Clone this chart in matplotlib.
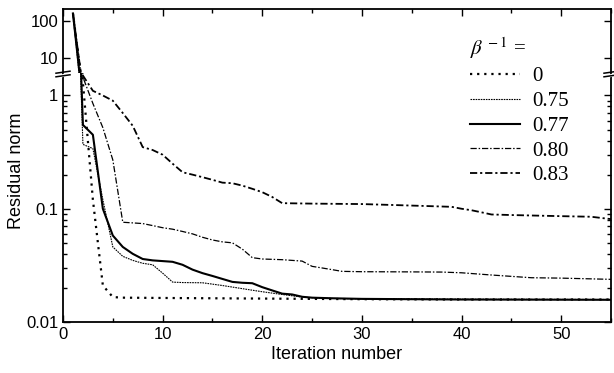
import matplotlib
matplotlib.use("Agg")
import matplotlib.pyplot as plt
from matplotlib.ticker import FixedLocator, NullLocator, MultipleLocator, NullFormatter, FixedFormatter
from matplotlib.lines import Line2D
from matplotlib.patches import Polygon

plt.rcParams['font.family'] = ['Liberation Sans', 'DejaVu Sans']
plt.rcParams['mathtext.fontset'] = 'stix'

# ---- data ----
labels = ["0", "0.75", "0.77", "0.80", "0.83"]

it_0 = [1, 2, 3, 4, 5, 6, 10, 20, 30, 40, 55]
res_0 = [160, 1.3, 0.12, 0.021, 0.0166, 0.0164, 0.0163, 0.0161, 0.0159, 0.0158, 0.0158]

it_075 = [1, 2, 3, 4, 5, 6, 7, 8, 9, 10, 11, 12, 14, 16, 18, 20, 22, 24, 26, 30, 40, 55]
res_075 = [160, 0.37, 0.34, 0.12, 0.046, 0.038, 0.035, 0.033, 0.032, 0.027, 0.0225,
           0.0223, 0.0222, 0.021, 0.0197, 0.0185, 0.0175, 0.0166, 0.0162, 0.016, 0.0159, 0.0158]

it_077 = [1, 2, 3, 4, 5, 6, 7, 8, 9, 10, 11, 12, 13, 14, 15, 16, 17, 18, 19, 20, 21, 22,
          23, 24, 25, 27, 30, 35, 40, 55]
res_077 = [160, 0.55, 0.45, 0.10, 0.058, 0.046, 0.040, 0.036, 0.035, 0.0345, 0.034, 0.032,
           0.029, 0.027, 0.0255, 0.024, 0.0226, 0.0222, 0.022, 0.0203, 0.019, 0.0178,
           0.0175, 0.0167, 0.0164, 0.0162, 0.016, 0.0159, 0.0158, 0.0157]

it_080 = [1, 2, 3, 4, 5, 6, 7, 8, 9, 10, 11, 12, 13, 14, 15, 16, 17, 18, 19, 20, 22, 24,
          25, 26, 27, 28, 30, 35, 38, 40, 43, 47, 50, 55]
res_080 = [160, 1.45, 0.85, 0.52, 0.27, 0.076, 0.075, 0.074, 0.071, 0.068, 0.066, 0.063,
           0.060, 0.056, 0.053, 0.051, 0.050, 0.044, 0.037, 0.036, 0.0355, 0.0345, 0.031,
           0.030, 0.029, 0.028, 0.0278, 0.0277, 0.0276, 0.0272, 0.026, 0.0246, 0.0244, 0.0238]

it_083 = [1, 2, 3, 4, 5, 6, 7, 8, 9, 10, 11, 12, 13, 14, 15, 16, 17, 18, 19, 20, 21, 22,
          25, 30, 33, 36, 39, 40, 41, 42, 43, 45, 50, 53, 55]
res_083 = [160, 1.5, 1.1, 1.0, 0.9, 0.7, 0.54, 0.35, 0.33, 0.30, 0.25, 0.21, 0.20, 0.19,
           0.18, 0.17, 0.168, 0.16, 0.15, 0.14, 0.127, 0.112, 0.111, 0.110, 0.108, 0.106,
           0.104, 0.100, 0.097, 0.093, 0.089, 0.088, 0.086, 0.085, 0.081]

series_x = [it_0, it_075, it_077, it_080, it_083]
series_y = [res_0, res_075, res_077, res_080, res_083]

styles = [
    dict(lw=1.6, ls=(0, (1.0, 2.2)), color='black'),
    dict(lw=0.8, ls=(0, (1.5, 0.8)), color='black'),
    dict(lw=1.5, ls='-', color='black'),
    dict(lw=0.9, ls=(0, (5, 1.5, 1.2, 1.5)), color='black'),
    dict(lw=1.3, ls=(0, (4, 1.6, 1.2, 1.6)), color='black'),
]

W, H = 614, 373
fig = plt.figure(figsize=(W / 100, H / 100), dpi=100)

def fx(px):
    return px / W

def fy(py):
    return 1 - py / H

left, right = 63, 611
top, brk, bottom = 9.3, 73, 322

ax_top = fig.add_axes([fx(left), fy(brk), fx(right) - fx(left), fy(top) - fy(brk)])
ax_bot = fig.add_axes([fx(left), fy(bottom), fx(right) - fx(left), fy(brk) - fy(bottom)])

handles = []
for xs, ys, st, lab in zip(series_x, series_y, styles, labels):
    ax_top.plot(xs, ys, **st)
    h, = ax_bot.plot(xs, ys, label=lab, **st)
    handles.append(h)

for ax in (ax_top, ax_bot):
    ax.set_yscale('log')
    ax.set_xlim(0, 55)
    for s in ax.spines.values():
        s.set_linewidth(1.3)
    ax.tick_params(which='both', direction='in', right=True, labelsize=12, width=1.0)
    ax.tick_params(which='major', length=5)
    ax.tick_params(which='minor', length=3)
    ax.xaxis.set_major_locator(MultipleLocator(10))
    ax.xaxis.set_minor_locator(MultipleLocator(5))

ax_top.set_ylim(3.94, 207)
ax_bot.set_ylim(0.01, 1.58)

ax_top.spines['bottom'].set_visible(False)
ax_bot.spines['top'].set_visible(False)
ax_top.tick_params(axis='x', which='both', bottom=False, top=True, labelbottom=False)
ax_bot.tick_params(axis='x', which='both', top=False, bottom=True)

ax_top.yaxis.set_major_locator(FixedLocator([10, 100]))
ax_top.yaxis.set_major_formatter(FixedFormatter(["10", "100"]))
ax_top.yaxis.set_minor_locator(NullLocator())

ax_bot.yaxis.set_major_locator(FixedLocator([0.01, 0.1, 1]))
ax_bot.yaxis.set_major_formatter(FixedFormatter(["0.01", "0.1", "1"]))
minors = [m * d for d in (0.01, 0.1) for m in range(2, 10)]
ax_bot.yaxis.set_minor_locator(FixedLocator(minors))
ax_bot.yaxis.set_minor_formatter(NullFormatter())

ax_bot.set_xlabel("Iteration number", fontsize=13, labelpad=3)
fig.text(fx(17), fy((top + bottom) / 2 + 5), "Residual norm", rotation=90,
         fontsize=13, ha='center', va='center')

# axis-break marks
for xc in (left, right):
    poly = Polygon([(fx(xc - 7), fy(brk + 3.5)), (fx(xc + 7), fy(brk - 1.5)),
                    (fx(xc + 7), fy(brk + 1.5)), (fx(xc - 7), fy(brk + 6.5))],
                   closed=True, transform=fig.transFigure, facecolor='white',
                   edgecolor='none', zorder=10)
    fig.add_artist(poly)
    for off in (-1.8, 1.8):
        fig.add_artist(Line2D([fx(xc - 7), fx(xc + 7)],
                              [fy(brk + 3.5 + off - 1.5), fy(brk - 1.5 + off + 1.5)],
                              transform=fig.transFigure, color='black', lw=1.1, zorder=11))

leg = ax_bot.legend(handles=handles, labels=labels, loc='upper left',
                    bbox_to_anchor=(fx(451), fy(17)), bbox_transform=fig.transFigure,
                    frameon=False, prop={'family': 'Liberation Serif', 'size': 15},
                    title=r"$\beta^{\,-1}$ =", title_fontproperties={'family': 'Liberation Serif', 'size': 15},
                    alignment='left', handlelength=2.4, handletextpad=0.6, labelspacing=0.25)

fig.savefig("out.png", dpi=100)
